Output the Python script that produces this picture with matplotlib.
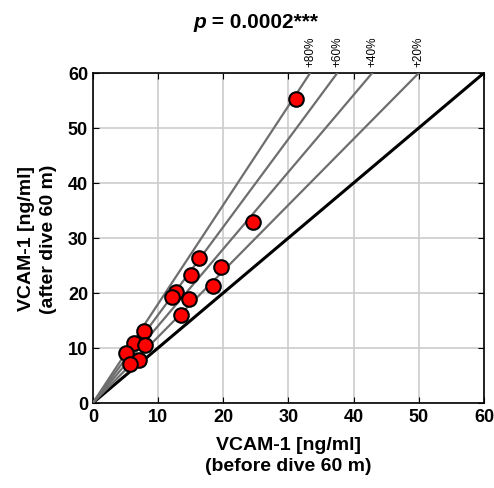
import matplotlib
matplotlib.use("Agg")
import matplotlib.pyplot as plt
import numpy as np

plt.rcParams['font.family'] = ['Liberation Sans', 'DejaVu Sans']

before = [31.1, 24.5, 16.3, 19.6, 15.0, 18.4, 12.8, 12.1, 14.7, 13.5, 7.8, 6.3, 8.0, 5.1, 7.0, 5.7]
after = [55.2, 32.9, 26.4, 24.7, 23.3, 21.2, 20.2, 19.3, 18.9, 15.9, 13.0, 10.9, 10.6, 9.1, 7.8, 7.0]
increments = [80, 60, 40, 20]
ticks = [0, 10, 20, 30, 40, 50, 60]

fig = plt.figure(figsize=(4.94, 4.89), dpi=100)
ax = fig.add_axes([0.188, 0.174, 0.792, 0.675])
ax.set_xlim(0, 60)
ax.set_ylim(0, 60)
ax.set_xticks(ticks)
ax.set_yticks(ticks)
ax.grid(True, color='#cccccc', linewidth=1.2)
ax.set_axisbelow(True)
ax.tick_params(direction='in', length=4, labelsize=13, top=True, right=True)
for lab in ax.get_xticklabels() + ax.get_yticklabels():
    lab.set_fontweight('bold')
for sp in ax.spines.values():
    sp.set_linewidth(1.2)

ax.plot([0, 60], [0, 60], color='black', linewidth=2.2, zorder=3)
for inc in increments:
    k = 1 + inc / 100
    xe = 60 / k
    ax.plot([0, xe], [0, 60], color='#6e6e6e', linewidth=1.6, zorder=3)
    ax.text(xe, 61.2, '+%d%%' % inc, rotation=90, ha='center', va='bottom', fontsize=8.5)

ax.scatter(before, after, s=110, facecolor='#ff0000', edgecolor='black', linewidth=1.5, zorder=4)

ax.set_xlabel('VCAM-1 [ng/ml]\n(before dive 60 m)', fontsize=14, fontweight='bold', labelpad=8, linespacing=1.35)
ax.set_ylabel('VCAM-1 [ng/ml]\n(after dive 60 m)', fontsize=14, fontweight='bold', labelpad=8, linespacing=1.35)
fig.text(0.392, 0.955, 'p', fontsize=15, fontweight='bold', fontstyle='italic', ha='left', va='center')
fig.text(0.418, 0.955, ' = 0.0002***', fontsize=15, fontweight='bold', ha='left', va='center')

fig.savefig('out.png', dpi=100)
